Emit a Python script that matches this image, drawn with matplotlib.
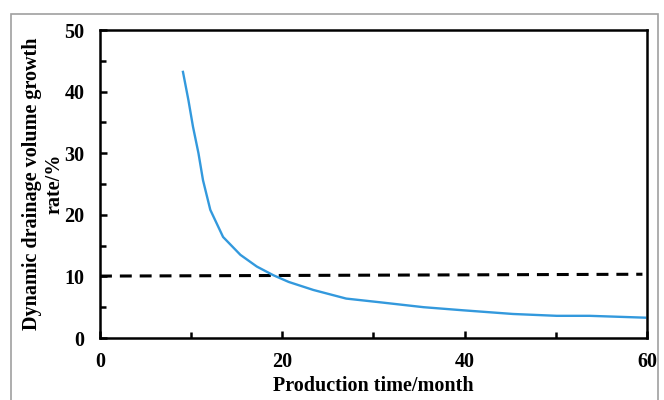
import matplotlib
matplotlib.use('Agg')
import matplotlib.pyplot as plt
from matplotlib.patches import Rectangle

# production time (months) and dynamic drainage volume growth rate (%)
months = [9.1, 9.7, 10.2, 10.8, 11.3, 12.1, 13.5, 15.4, 17.2, 19.0,
          20.7, 23.4, 27.0, 30.7, 35.5, 39.8, 45.3, 50.1, 53.7, 59.8]
growth = [43.2, 38.6, 34.3, 30.0, 25.6, 20.8, 16.4, 13.5, 11.6, 10.2,
          9.1, 7.8, 6.4, 5.8, 5.0, 4.5, 3.9, 3.6, 3.6, 3.3]

# reference line
ref_x = [0, 59.5]
ref_y = [10.05, 10.35]

plt.rcParams['font.family'] = ['Liberation Serif', 'DejaVu Serif']
plt.rcParams['font.weight'] = 'bold'

fig = plt.figure(figsize=(6.64, 4.0), dpi=100)
ax = fig.add_axes([0.1506, 0.155, 0.8238, 0.77])

# grey frame around the figure
fig.patches.append(Rectangle((11/664, -0.1), 647/664, 1.08 - 7/400 + 0.0025,
                             transform=fig.transFigure, fill=False,
                             edgecolor='#a0a0a0', linewidth=1.2))

ax.plot(ref_x, ref_y, '--', color='black', linewidth=2.2, dashes=(3.9, 2.6))
ax.plot(months, growth, '-', color='#3399DD', linewidth=1.7)

ax.set_xlim(0, 60)
ax.set_ylim(0, 50)
ax.set_xticks([0, 20, 40, 60])
ax.set_xticks([10, 30, 50], minor=True)
ax.set_yticks([0, 10, 20, 30, 40, 50])
ax.set_yticks([5, 15, 25, 35, 45], minor=True)
ax.tick_params(which='both', direction='in', width=1.8, labelsize=14.5)
ax.tick_params(which='major', length=5)
ax.tick_params(which='minor', length=4)
ax.tick_params(axis='x', pad=10)
ax.tick_params(axis='y', pad=11)
for s in ax.spines.values():
    s.set_linewidth(1.8)

ax.set_xlabel('Production time/month', fontsize=14.5, fontweight='bold', labelpad=3)
ax.set_ylabel('Dynamic drainage volume growth\nrate/%', fontsize=14.5,
              fontweight='bold', labelpad=0, linespacing=1.2)

fig.savefig('out.png', dpi=100)
